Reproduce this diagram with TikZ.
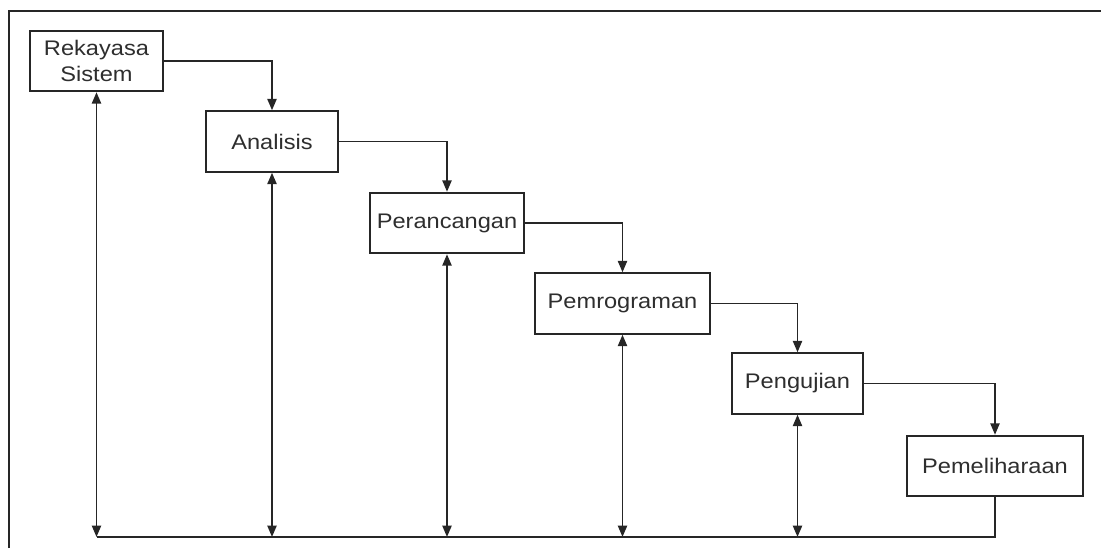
\documentclass[tikz,border=0pt]{standalone}
\usepackage{fontspec}
\setmainfont{Liberation Sans}[FakeStretch=1.12]
\usetikzlibrary{arrows.meta}

\tikzset{
	tahap/.style={draw=black!85, line width=1.1pt, fill=white, minimum height=1.21cm,
		inner sep=0pt, align=center, text=black!82, font=\fontsize{12}{15}\selectfont},
	alur/.style={draw=black!85, line width=1.1pt},
	>={Triangle[length=6.5pt,width=5.2pt]}
}

\begin{document}
\begin{tikzpicture}[x=0.02cm, y=-0.02cm]
			\useasboundingbox (0,0) rectangle (1101,548);
			%frame
			\draw[alur] (9,548) -- (9,11) -- (1101,11);
			
			%stages
			\node[tahap, minimum width=2.66cm] (rs) at (96.5,61) {Rekayasa\\Sistem};
			\node[tahap, minimum width=2.64cm] (an) at (272,141.5) {Analisis};
			\node[tahap, minimum width=3.08cm] (pr) at (447,223) {Perancangan};
			\node[tahap, minimum width=3.50cm] (pg) at (622.5,303.5) {Pemrograman};
			\node[tahap, minimum width=2.62cm] (pj) at (797.5,383.5) {Pengujian};
			\node[tahap, minimum width=3.52cm] (pm) at (995,466) {Pemeliharaan};
			
			%forward flow
			\draw[alur,->] (rs.east) -| (an.north);
			\draw[alur,->] (an.east) -| (pr.north);
			\draw[alur,->] (pr.east) -| (pg.north);
			\draw[alur,->] (pg.east) -| (pj.north);
			\draw[alur,->] (pj.east) -| (pm.north);
			
			%feedback
			\coordinate (ujung) at (96.5,537);
			\draw[alur] (pm.south) |- (ujung);
			\foreach \n in {rs, an, pr, pg, pj}{
				\draw[alur,<->] (\n.south) -- (\n.south |- ujung);
			}
\end{tikzpicture}
\end{document}
